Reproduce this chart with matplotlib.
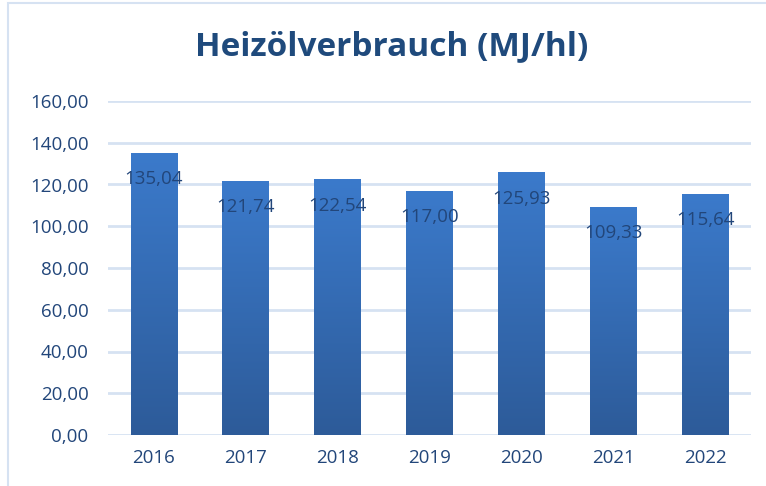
import numpy as np
import matplotlib.pyplot as plt
from matplotlib.patches import Rectangle

years = ['2016', '2017', '2018', '2019', '2020', '2021', '2022']
values = [135.04, 121.74, 122.54, 117.00, 125.93, 109.33, 115.64]
yticks = [0, 20, 40, 60, 80, 100, 120, 140, 160]

text_col = '#22467a'
grid_col = '#d6e2f2'

plt.rcParams['font.family'] = ['Open Sans', 'DejaVu Sans']

fig = plt.figure(figsize=(7.66, 4.86), dpi=100)
ax = fig.add_axes([108 / 766, 1 - 435 / 486, 643 / 766, 334 / 486])

x = np.arange(len(years))
bars = ax.bar(x, values, width=0.51, color='none', zorder=3)

# vertical gradient fill, clipped to each bar
grad = np.linspace(0, 1, 256).reshape(-1, 1)
cmap = plt.matplotlib.colors.LinearSegmentedColormap.from_list(
    'bar', ['#2d5b99', '#3b7acb'])
for b in bars:
    x0, w, h = b.get_x(), b.get_width(), b.get_height()
    im = ax.imshow(grad, extent=[x0, x0 + w, 0, h], origin='lower',
                   cmap=cmap, aspect='auto', zorder=3)
    im.set_clip_path(b)

for xi, v in zip(x, values):
    ax.annotate(f'{v:.2f}'.replace('.', ','), (xi, v), xytext=(0, -19),
                textcoords='offset points', ha='center', va='center',
                fontsize=13.5, color=text_col, zorder=4)

ax.set_xlim(-0.5, len(years) - 0.5)
ax.set_ylim(0, 160)
ax.set_yticks(yticks)
ax.set_yticklabels([f'{t:.2f}'.replace('.', ',') for t in yticks])
ax.set_xticks(x)
ax.set_xticklabels(years)
ax.tick_params(length=0, labelsize=13.5, colors=text_col)
ax.tick_params(axis='y', pad=14)
ax.tick_params(axis='x', pad=10)
ax.grid(axis='y', color=grid_col, linewidth=2, zorder=0)
for s in ax.spines.values():
    s.set_visible(False)

fig.text(392 / 766, 1 - 47 / 486, 'Heizölverbrauch (MJ/hl)', ha='center', va='center',
         fontsize=24, fontweight='bold', color='#1f4a7c')

# light frame around the chart area
fig.patches.append(Rectangle((8 / 766, -0.02), 1, 1 - 3 / 486 + 0.02,
                             transform=fig.transFigure, fill=False,
                             edgecolor='#d6e2f2', linewidth=1.5))

fig.savefig('out.png', dpi=100)
